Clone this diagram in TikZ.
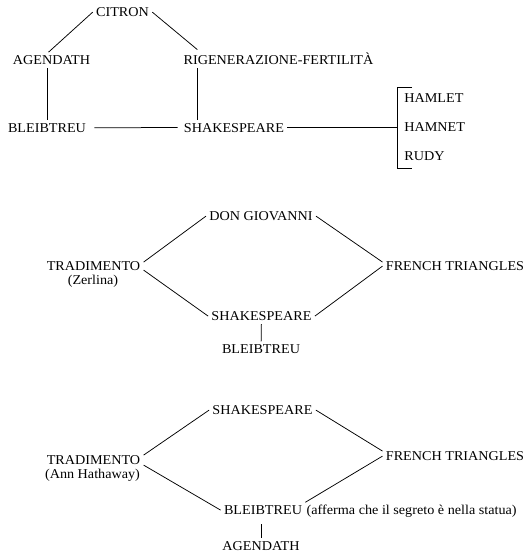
\documentclass[tikz,border=0pt]{standalone}
\usepackage{fontspec}
\setmainfont{Liberation Serif}[FakeStretch=1.05]

\tikzset{lab/.style={anchor=base}}

\begin{document}
\begin{tikzpicture}[x=1pt, y=-1pt, line width=0.75pt,
	every node/.style={inner sep=3pt, font=\fontsize{13.5}{14}\selectfont}]
	\useasboundingbox (0,0) rectangle (527,555);

	\node[lab] (citron) at (122.5,16.5) {CITRON};
	\node[lab] (agendath) at (51.5,64.5) {AGENDATH};
	\node[lab] (rigen) at (278.5,64.5) {RIGENERAZIONE-FERTILITÀ};
	\node[lab] (bleib1) at (47,132) {BLEIBTREU};
	\node[lab] (shakes1) at (234,132) {SHAKESPEARE};
	\node[lab, anchor=base west] (hamlet) at (401,102.5) {HAMLET};
	\node[lab, anchor=base west] (hamnet) at (401,131.5) {HAMNET};
	\node[lab, anchor=base west] (rudy) at (401,160.5) {RUDY};
	\coordinate (rs) at ([xshift=17pt]rigen.south west);
	\coordinate (brk) at (397,128);
	\coordinate (brtop) at (412,87);
	\coordinate (brbot) at (412,168.5);

	\path[-] (citron.west) edge ([xshift=-3pt]agendath.north);
	\path[-] (citron.east) edge ([xshift=17pt]rigen.north west);
	\path[-] (bleib1.north |- agendath.south) edge (bleib1.north);
	\path[-] (rs) edge (rs |- shakes1.north);
	\path[-] (bleib1) edge[shorten <=5pt, shorten >=3pt] (shakes1);
	\path[-] (shakes1.east) edge (shakes1.east -| brk);
	\draw (brtop) -- (brtop -| brk) -- (brbot -| brk) -- (brbot);

	\node[lab] (don) at (261,220.5) {DON GIOVANNI};
	\node[lab] (trad2) at (93.5,270.5) {TRADIMENTO};
	\node[lab] (zerlina) at (93,284.5) {(Zerlina)};
	\node[lab] (french2) at (455,270.5) {FRENCH TRIANGLES};
	\node[lab] (shakes2) at (261.5,320.5) {SHAKESPEARE};
	\node[lab] (bleib2) at (261,353.5) {BLEIBTREU};

	\path[-] ([yshift=4pt]trad2.east) edge (don.west);
	\path[-] (don.east) edge ([yshift=4pt]french2.west);
	\path[-] ([yshift=-4pt]trad2.east) edge (shakes2.west);
	\path[-] (french2.west) edge (shakes2.east);
	\path[-] (shakes2) edge (bleib2);

	\node[lab] (shakes3) at (262.5,414.5) {SHAKESPEARE};
	\node[lab] (trad3) at (93.5,464.5) {TRADIMENTO};
	\node[lab] (annhat) at (92.5,478.5) {(Ann Hathaway)};
	\node[lab] (french3) at (455,460.5) {FRENCH TRIANGLES};
	\node[lab] (bleib3) at (263,514.5) {BLEIBTREU};
	\node[lab, anchor=base west, inner sep=1pt] (note) at (bleib3.base east) {(afferma che il segreto è nella statua)};
	\node[lab] (agend3) at (261,550.5) {AGENDATH};

	\path[-] ([yshift=5pt]trad3.east) edge (shakes3.west);
	\path[-] (shakes3.east) edge ([yshift=5pt]french3.west);
	\path[-] ([yshift=-5pt]trad3.east) edge (bleib3.west);
	\path[-] (french3.west) edge (bleib3.north east);
	\path[-] (agend3.north |- bleib3.south) edge[shorten <=6pt] (agend3.north);
\end{tikzpicture}
\end{document}
